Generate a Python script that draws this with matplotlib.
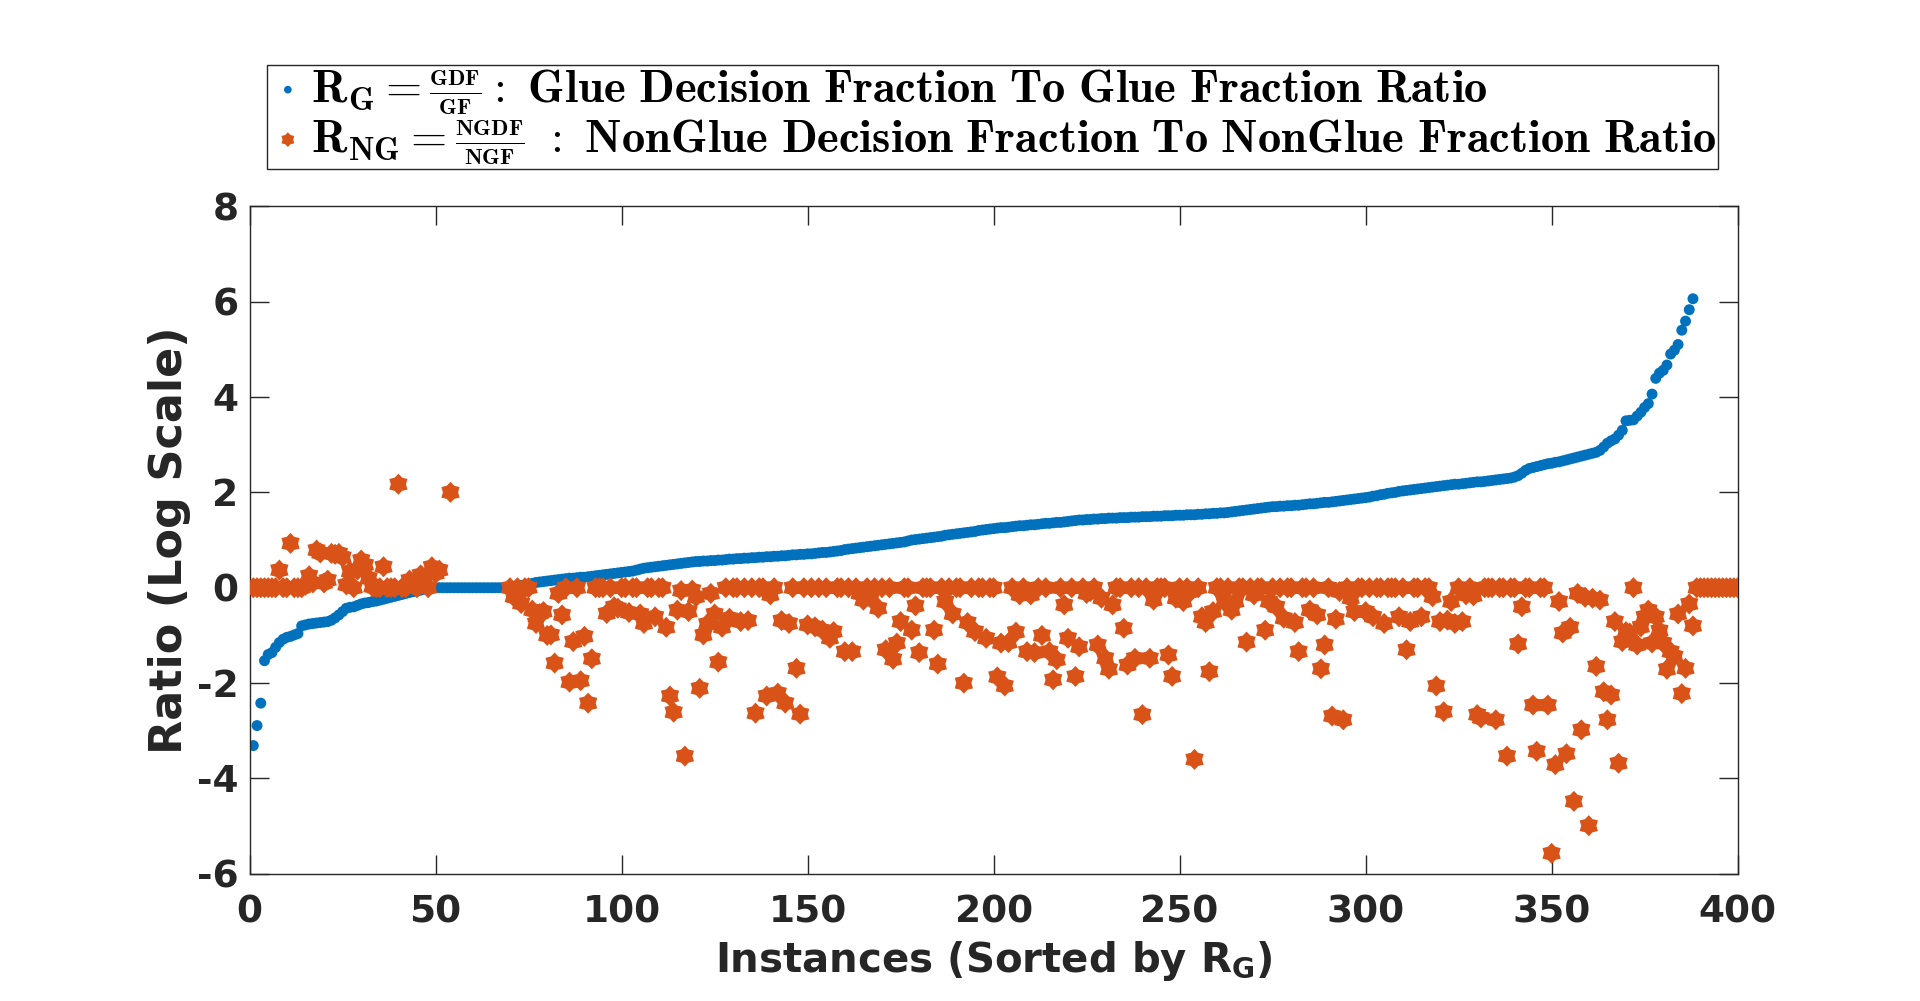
import numpy as np
import matplotlib
matplotlib.use("Agg")
import matplotlib.pyplot as plt
from matplotlib.path import Path
from matplotlib.font_manager import FontProperties

plt.rcParams["axes.unicode_minus"] = False

nan = np.nan

# R_G values, already sorted (instances 1..388)
r_g = [
    -3.31, -2.89, -2.42, -1.53, -1.40, -1.36, -1.25, -1.15, -1.08, -1.04,
    -1.02, -0.99, -0.96, -0.80, -0.78, -0.76, -0.75, -0.74, -0.73, -0.72,
    -0.71, -0.68, -0.63, -0.57, -0.50, -0.43, -0.41, -0.40, -0.37, -0.34,
    -0.32, -0.31, -0.29, -0.28, -0.26, -0.24, -0.22, -0.20, -0.18, -0.16,
    -0.14, -0.12, -0.10, -0.08, -0.07, -0.05, -0.03, -0.02, -0.01, 0.00,
    0.00, 0.00, 0.00, 0.00, 0.00, 0.00, 0.00, 0.00, 0.00, 0.00,
    0.00, 0.00, 0.00, 0.00, 0.00, 0.00, 0.00, 0.00, 0.00, 0.01,
    0.02, 0.03, 0.05, 0.06, 0.08, 0.09, 0.11, 0.12, 0.13, 0.14,
    0.15, 0.16, 0.17, 0.18, 0.19, 0.20, 0.20, 0.21, 0.22, 0.22,
    0.23, 0.24, 0.25, 0.26, 0.27, 0.28, 0.29, 0.30, 0.31, 0.32,
    0.33, 0.34, 0.35, 0.37, 0.39, 0.41, 0.42, 0.43, 0.44, 0.45,
    0.46, 0.47, 0.48, 0.49, 0.50, 0.51, 0.52, 0.53, 0.54, 0.55,
    0.55, 0.56, 0.56, 0.57, 0.57, 0.58, 0.58, 0.59, 0.60, 0.60,
    0.61, 0.61, 0.62, 0.62, 0.63, 0.63, 0.64, 0.64, 0.65, 0.65,
    0.66, 0.66, 0.67, 0.67, 0.68, 0.69, 0.69, 0.70, 0.70, 0.71,
    0.71, 0.72, 0.73, 0.74, 0.74, 0.75, 0.76, 0.77, 0.78, 0.80,
    0.81, 0.82, 0.83, 0.84, 0.85, 0.86, 0.87, 0.88, 0.89, 0.90,
    0.91, 0.92, 0.93, 0.94, 0.95, 0.96, 0.98, 1.00, 1.01, 1.02,
    1.03, 1.04, 1.05, 1.06, 1.07, 1.08, 1.10, 1.11, 1.12, 1.13,
    1.14, 1.15, 1.16, 1.17, 1.18, 1.20, 1.21, 1.22, 1.23, 1.24,
    1.25, 1.26, 1.26, 1.27, 1.28, 1.29, 1.30, 1.30, 1.31, 1.32,
    1.32, 1.33, 1.34, 1.35, 1.35, 1.36, 1.37, 1.37, 1.38, 1.39,
    1.40, 1.41, 1.42, 1.42, 1.43, 1.43, 1.44, 1.44, 1.45, 1.45,
    1.46, 1.46, 1.46, 1.47, 1.47, 1.47, 1.48, 1.48, 1.48, 1.49,
    1.49, 1.49, 1.50, 1.50, 1.50, 1.51, 1.51, 1.51, 1.52, 1.52,
    1.52, 1.53, 1.53, 1.53, 1.54, 1.54, 1.55, 1.55, 1.56, 1.56,
    1.57, 1.57, 1.58, 1.59, 1.60, 1.61, 1.62, 1.63, 1.64, 1.65,
    1.66, 1.67, 1.68, 1.69, 1.70, 1.70, 1.71, 1.71, 1.72, 1.72,
    1.73, 1.73, 1.74, 1.75, 1.76, 1.76, 1.77, 1.78, 1.79, 1.79,
    1.80, 1.81, 1.82, 1.83, 1.84, 1.85, 1.86, 1.87, 1.88, 1.89,
    1.90, 1.92, 1.93, 1.95, 1.96, 1.98, 1.99, 2.00, 2.02, 2.03,
    2.04, 2.05, 2.06, 2.07, 2.08, 2.09, 2.10, 2.11, 2.12, 2.13,
    2.14, 2.15, 2.16, 2.17, 2.17, 2.18, 2.19, 2.20, 2.21, 2.22,
    2.22, 2.23, 2.24, 2.25, 2.26, 2.27, 2.28, 2.29, 2.30, 2.32,
    2.35, 2.40, 2.46, 2.50, 2.52, 2.54, 2.56, 2.58, 2.60, 2.61,
    2.63, 2.64, 2.66, 2.68, 2.70, 2.72, 2.74, 2.76, 2.78, 2.80,
    2.82, 2.84, 2.88, 2.95, 3.03, 3.08, 3.12, 3.20, 3.30, 3.50,
    3.51, 3.52, 3.60, 3.68, 3.78, 3.86, 4.06, 4.39, 4.50, 4.56,
    4.67, 4.90, 4.98, 5.10, 5.40, 5.59, 5.83, 6.06,
]

# R_NG values for the same instances (1..400), nan = not plotted
r_ng = [
    0, 0, 0, 0, 0, 0, 0, 0.37, 0, 0,
    0.93, 0, 0, 0, 0.05, 0.25, 0.10, 0.79, 0.73, 0.10,
    0.16, 0.72, 0.70, 0.72, 0.64, 0.06, 0.34, 0, 0.37, 0.58,
    0.48, 0.20, 0.02, 0, 0, 0.44, 0, 0, 0, 2.17,
    0, 0, 0.16, 0.06, 0, 0.27, 0.16, 0, 0.44, 0.30,
    0.37, nan, nan, 2.00, nan, nan, nan, nan, nan, nan,
    nan, nan, nan, nan, nan, nan, nan, nan, nan, 0,
    -0.19, 0, -0.33, 0, 0, -0.47, -0.75, -0.54, -0.50, -1.00,
    -0.99, -1.58, -0.12, -0.57, 0, -1.98, -1.13, 0, -1.95, -1.02,
    -2.42, -1.49, 0, 0, 0, -0.54, 0, -0.40, -0.43, 0,
    0, -0.52, 0, 0, -0.55, -0.75, 0, 0, -0.61, 0,
    0, -0.83, -2.27, -2.61, -0.47, -0.06, -3.53, -0.50, -0.05, -0.19,
    -2.11, -0.99, -0.76, -0.12, -0.55, -1.56, -0.83, 0, -0.64, 0,
    0, -0.71, 0, -0.69, 0, -2.63, 0, 0, -2.27, -0.15,
    0, -2.21, -0.69, -2.42, -0.75, 0, -1.69, -2.65, 0, -0.78,
    0, -0.82, 0, -0.89, 0, -1.06, -0.92, 0, 0, -1.34,
    0, -1.34, 0, -0.12, -0.26, 0, -0.22, 0, -0.43, 0,
    -1.30, 0, -1.50, -1.16, -0.71, 0, 0, -0.89, -0.38, -1.36,
    0, 0, 0, -0.89, -1.60, 0, -0.29, 0, -0.55, 0,
    0, -2.00, -0.73, 0, -0.92, 0, 0, -1.06, 0, 0,
    -1.87, -1.16, -2.06, -1.15, 0, -0.93, -0.15, 0, -1.34, -0.15,
    -1.36, 0, -1.00, 0, -1.34, -1.93, -1.51, 0, -0.36, -1.06,
    0, -1.86, -1.24, 0, -0.12, -0.08, 0, -1.20, -0.22, -1.48,
    -1.71, -0.36, 0, 0, -0.85, -1.62, 0, -1.48, 0, -2.66,
    0, -1.48, -0.26, 0, 0, 0, -1.41, -1.86, -0.22, 0,
    -0.29, 0, -0.08, -3.60, 0, -0.61, -0.73, -1.76, -0.50, 0,
    0, -0.29, 0, -0.47, -0.29, 0, 0, -1.14, 0, -0.15,
    0, 0, -0.89, -0.29, 0, -0.40, 0, -0.64, 0, 0,
    -0.73, -1.34, 0, 0, -0.47, 0, -0.57, -1.70, -1.20, 0,
    -2.69, -0.66, -0.08, -2.77, 0, -0.22, -0.50, 0, 0, -0.50,
    0, -0.61, 0, 0, -0.75, 0, 0, 0, -0.61, 0,
    -1.30, -0.71, 0, 0, -0.61, 0, 0, -0.19, -2.06, -0.71,
    -2.60, -0.68, -0.29, -0.75, 0, -0.71, -0.15, 0, -0.17, -2.66,
    -2.73, 0, 0, 0, -2.77, 0, 0, -3.53, 0, 0,
    -1.18, -0.40, 0, 0, -2.46, -3.43, 0, 0, -2.46, -5.57,
    -3.71, -0.29, -0.95, -3.48, -0.83, -4.48, -0.12, -2.98, -0.20, -4.99,
    -0.22, -1.65, -0.26, -2.18, -2.77, -2.25, -0.71, -3.68, -1.13, -0.92,
    -0.95, 0, -1.20, -0.82, -0.61, -0.47, -1.16, -0.61, -0.90, -1.16,
    -1.71, -1.34, -1.44, -0.55, -2.22, -1.69, -0.34, -0.80, 0, 0,
    0, 0, 0, 0, 0, 0, 0, 0, 0, 0,
]

x_g = np.arange(1, len(r_g) + 1)
x_ng = np.arange(1, len(r_ng) + 1)

blue = "#0072BD"
orange = "#D95319"
axcol = "#262626"

# matlab style hexagram (rendered blobby at this size)
hexagram = Path.unit_regular_star(6, 0.72)

lab_g = (r"$\mathbf{R_G} =\genfrac{}{}{1.2}{2}{\mathbf{GDF}}{\mathbf{GF}}"
         r"\mathbf{:\ Glue\ Decision\ Fraction\ To\ Glue\ Fraction\ Ratio}$")
lab_ng = (r"$\mathbf{R_{NG}} =\genfrac{}{}{1.2}{2}{\mathbf{NGDF}}{\mathbf{NGF}}"
          r"\mathbf{\ :\ NonGlue\ Decision\ Fraction\ To\ NonGlue\ Fraction\ Ratio}$")

fig = plt.figure(figsize=(19.2, 10.01), dpi=100)
ax = fig.add_axes([0.130, 0.127, 0.775, 0.667])

ax.scatter(x_g, r_g, s=62, color=blue, edgecolors="none", zorder=2, label=lab_g)
ax.scatter(x_ng, r_ng, s=230, marker=hexagram, color=orange, edgecolors="none",
           zorder=3, label=lab_ng)

ax.set_xlim(0, 400)
ax.set_ylim(-6, 8)
ax.set_xticks(np.arange(0, 401, 50))
ax.set_yticks(np.arange(-6, 9, 2))

ax.tick_params(direction="in", length=14, width=1.0, colors=axcol,
               top=True, right=True, labelsize=27)
ax.tick_params(axis="x", pad=15)
ax.tick_params(axis="y", pad=8)
for lab in ax.get_xticklabels() + ax.get_yticklabels():
    lab.set_fontweight("bold")
for sp in ax.spines.values():
    sp.set_color(axcol)
    sp.set_linewidth(1.0)

ax.set_xlabel(r"Instances (Sorted by $\mathbf{R_G}$)", fontsize=29, fontweight="bold",
              color=axcol, math_fontfamily="dejavusans", labelpad=6)
ax.set_ylabel("Ratio (Log Scale)", fontsize=32, fontweight="bold", color=axcol, labelpad=4)

leg = fig.legend(loc="lower center", bbox_to_anchor=(0.517, 0.831),
                 prop=FontProperties(size=33.5, math_fontfamily="cm"),
                 frameon=True, fancybox=False, framealpha=1, edgecolor=axcol,
                 handletextpad=0.1, borderpad=0.05, labelspacing=0.0,
                 handlelength=0.8, markerscale=0.7, borderaxespad=0)
leg.get_frame().set_linewidth(1.0)

fig.savefig("out.png", dpi=100, facecolor="white")
